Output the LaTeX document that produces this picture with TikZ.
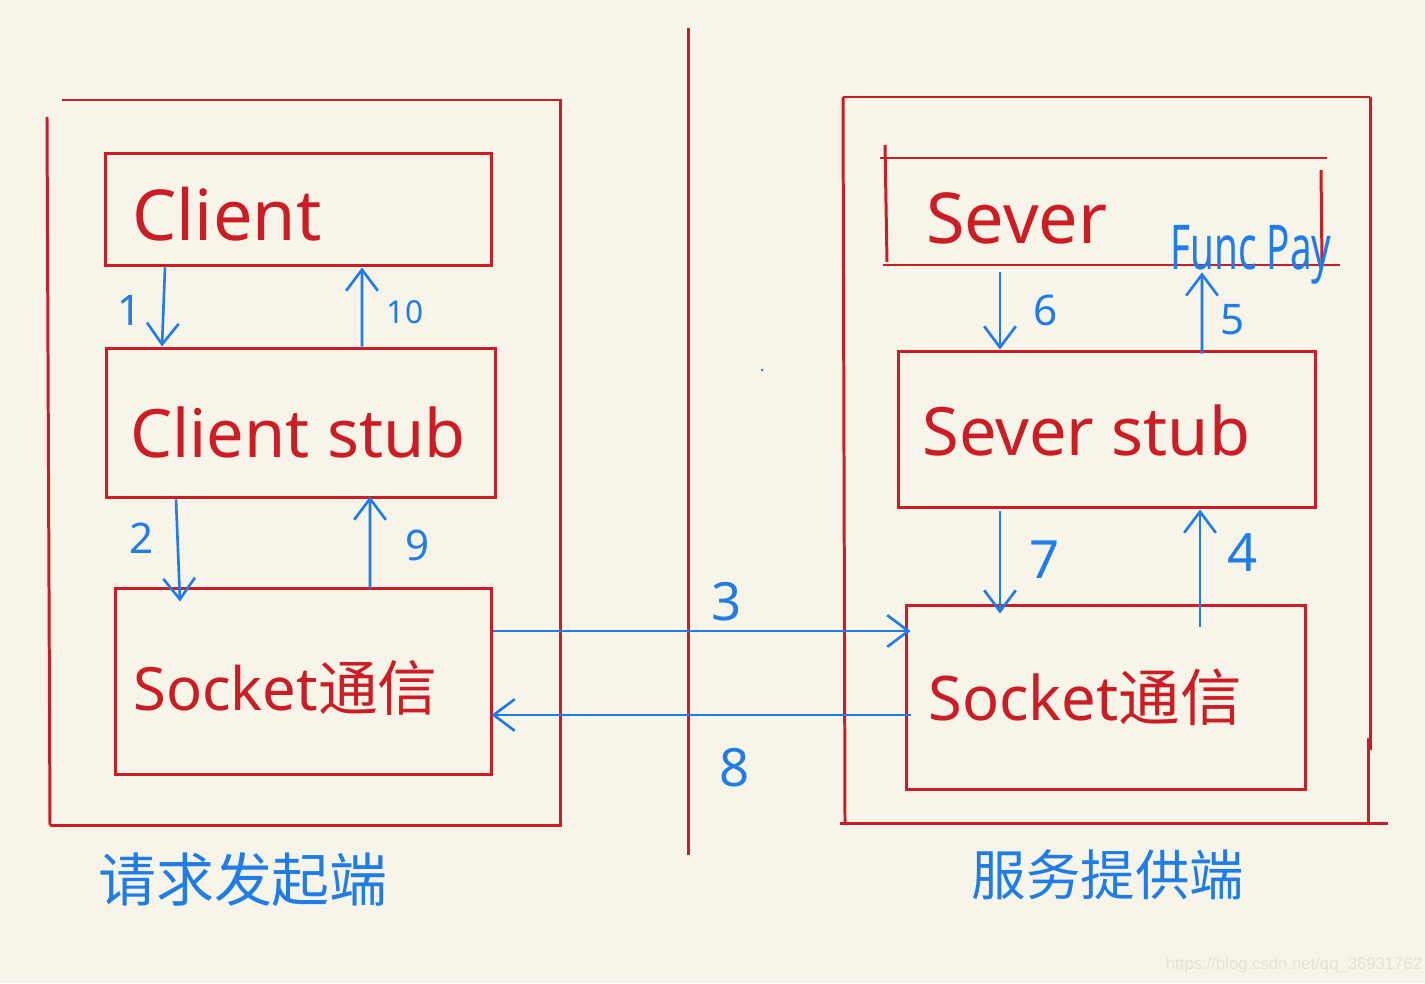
\documentclass[tikz,border=0pt]{standalone}
\usepackage{fontspec}
\usepackage{graphicx}
\setmainfont{Noto Sans}
\newfontfamily\cjk{Noto Sans CJK SC}
\newfontfamily\wmfont{Liberation Sans}
\usetikzlibrary{arrows.meta,calc}
\definecolor{bg}{RGB}{247,244,233}
\definecolor{rd}{RGB}{204,28,36}
\definecolor{bl}{RGB}{32,124,230}
\definecolor{wm}{RGB}{228,226,216}
\begin{document}
\begin{tikzpicture}[x=0.02cm,y=-0.02cm,
  frame/.style={rd,line width=1.7pt},
  box/.style={draw=rd,line width=1.7pt,inner sep=0pt},
  openbox/.style={inner sep=0pt},
  arr/.style={bl,line width=1.5pt,-{Straight Barb[length=12pt,width=18pt]}},
  num/.style={text=bl,inner sep=0pt,font=\fontsize{24}{24}\selectfont},
  bignum/.style={text=bl,inner sep=0pt,font=\fontsize{30}{30}\selectfont},
  rtxt/.style={text=rd,anchor=west,inner sep=0pt,font=\fontsize{40}{40}\selectfont},
  stubtxt/.style={text=rd,anchor=west,inner sep=0pt,font=\fontsize{38}{38}\selectfont},
  stxt/.style={text=rd,anchor=west,inner sep=0pt,font=\fontsize{34}{34}\selectfont},
  captext/.style={text=bl,inner sep=0pt}]
\fill[bg] (0,0) rectangle (1425,983);
\useasboundingbox (0,0) rectangle (1425,983);

% outer frames
\draw[frame] (62,100) -- (560,100) -- (560,825) -- (50,825);
\draw[frame] (47,117) -- (50,825);
\draw[frame] (688,28) -- (688,855);
\draw[frame] (843,97) -- (1370,97);
\draw[frame] (843,97) -- (845,822);
\draw[frame] (1370,97) -- (1370,750);
\draw[frame] (1368,738) -- (1368,822);
\draw[frame] (840,823) -- (1388,823);

% left boxes
\node[box,minimum width=7.74cm,minimum height=2.26cm] (client) at (298.5,209.5) {};
\node[box,minimum width=7.8cm,minimum height=3.0cm] (cstub) at (301,423) {};
\node[box,minimum width=7.54cm,minimum height=3.74cm] (lsock) at (303.5,681.5) {};

% right boxes
\node[openbox,minimum width=8.74cm,minimum height=2.14cm] (server) at (1103.5,211.5) {};
\draw[frame] (880,158) -- (1327,158);
\draw[frame] (883,265) -- (1340,265);
\draw[frame] (885,145) -- (887,262);
\draw[frame] (1321,170) -- (1322,265);
\node[box,minimum width=8.36cm,minimum height=3.14cm] (sstub) at (1107,429.5) {};
\node[box,minimum width=8.0cm,minimum height=3.7cm] (rsock) at (1106,697.5) {};

% box texts
\node[rtxt] (tclient) at (132,214) {Client};
\node[stubtxt] (tcstub) at (130,432) {Client stub};
\node[stxt] (tlsock) at (133,688) {Socket{\cjk 通信}};
\node[rtxt] (tserver) at (926,218) {Sever};
\node[stubtxt] (tsstub) at (922,430) {Sever stub};
\node[stxt,font=\fontsize{35}{35}\selectfont] (trsock) at (928,697) {Socket{\cjk 通信}};
\node[text=bl,anchor=west,inner sep=0pt,font=\fontsize{22}{22}\selectfont] (fp) at (1170,255) {\scalebox{1}[1.6]{Func Pay}};

% arrows
\draw[arr] ($(client.south)+(-133.5,0)$) -- ($(cstub.north)+(-139,0)$);
\draw[arr] ($(cstub.north)+(61,0)$) -- ($(client.south)+(63.5,0)$);
\draw[arr] ($(cstub.south)+(-125,0)$) -- ($(lsock.north)+(-123.5,15)$);
\draw[arr] ($(lsock.north)+(66.5,2)$) -- ($(cstub.south)+(69,-3)$);
\draw[arr] ($(lsock.east)+(0,-50.5)$) -- ($(rsock.west)+(6,-66.5)$);
\draw[arr] ($(rsock.west)+(6,17.5)$) -- ($(lsock.east)+(-2,33.5)$);
\draw[arr] ($(server.south)+(-103.5,7)$) -- ($(sstub.north)+(-107,0)$);
\draw[arr] ($(sstub.north)+(95,4)$) -- ($(server.south)+(98.5,7)$);
\draw[arr] ($(sstub.south)+(-107,2)$) -- ($(rsock.north)+(-106,10)$);
\draw[arr] ($(rsock.north)+(94,23)$) -- ($(sstub.south)+(93,0)$);

% numbers
\node[num] (n1) at (130,310) {1};
\node[num,font=\fontsize{18}{18}\selectfont] (n10) at (405,312) {10};
\node[num] (n2) at (142,538) {2};
\node[num] (n9) at (418,545) {9};
\node[bignum] (n3) at (727,602) {3};
\node[bignum] (n8) at (735,768) {8};
\node[num] (n6) at (1046,310) {6};
\node[num] (n5) at (1233,320) {5};
\node[bignum] (n7) at (1045,560) {7};
\node[bignum] (n4) at (1243,553) {4};

% stray dot
\fill[bl!60!gray] (762,370) circle[radius=1.5];

% captions
\node[captext,font=\cjk\fontsize{33}{33}\selectfont] (lcap) at (243,880) {请求发起端};
\node[captext,font=\cjk\fontsize{31}{31}\selectfont] (rcap) at (1108,875) {服务提供端};

% watermark
\node[text=wm,inner sep=0pt,font=\wmfont\fontsize{9.5}{9.5}\selectfont] (wm) at (1294,965) {https://blog.csdn.net/qq\_36931762};
\end{tikzpicture}
\end{document}
